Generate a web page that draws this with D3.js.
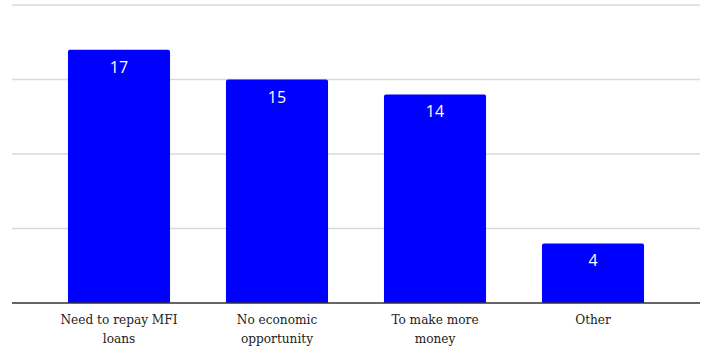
<!DOCTYPE html>
<html>
<head>
<meta charset="utf-8">
<script src="https://cdn.jsdelivr.net/npm/d3@7"></script>
<style>
  body { margin: 0; background: #fff; }
  svg { display: block; }
</style>
</head>
<body>
<div id="chart"></div>
<script>
// categories (line-broken as in the picture) and their values
const categories = ["Need to repay MFI loans", "No economic opportunity", "To make more money", "Other"];
const categoryLines = [["Need to repay MFI", "loans"], ["No economic", "opportunity"], ["To make more", "money"], ["Other"]];
const values = [17, 15, 14, 4];
const yTicks = [0, 5, 10, 15, 20];

const width = 704, height = 349;
const plotLeft = 12, plotRight = 700, baseY = 303, topY = 5;

const svg = d3.select("#chart").append("svg")
  .attr("width", width)
  .attr("height", height);

const x = d3.scaleBand()
  .domain(categories)
  .range([40, 672])
  .paddingInner(0.354)
  .paddingOuter(0.177);

const y = d3.scaleLinear()
  .domain([0, 20])
  .range([baseY, topY]);

// horizontal gridlines
svg.append("g")
  .selectAll("line")
  .data(yTicks.filter(t => t > 0))
  .join("line")
  .attr("x1", plotLeft)
  .attr("x2", plotRight)
  .attr("y1", d => y(d))
  .attr("y2", d => y(d))
  .attr("stroke", "#d9d9d9")
  .attr("stroke-width", 1.3);

// bars with slightly rounded tops
const r = 2;
svg.append("g")
  .selectAll("path")
  .data(values)
  .join("path")
  .attr("fill", "#0000ff")
  .attr("d", (d, i) => {
    const x0 = x(categories[i]), w = x.bandwidth(), y0 = y(d), h = y(0) - y(d);
    return `M${x0},${y0 + h}V${y0 + r}Q${x0},${y0} ${x0 + r},${y0}H${x0 + w - r}Q${x0 + w},${y0} ${x0 + w},${y0 + r}V${y0 + h}Z`;
  });

// value labels inside bars
svg.append("g")
  .selectAll("text")
  .data(values)
  .join("text")
  .attr("x", (d, i) => x(categories[i]) + x.bandwidth() / 2)
  .attr("y", d => y(d) + 23)
  .attr("text-anchor", "middle")
  .attr("fill", "#fff")
  .style("font-family", "'Open Sans', sans-serif")
  .style("font-size", "16px")
  .text(d => d);

// baseline
svg.append("line")
  .attr("x1", plotLeft)
  .attr("x2", plotRight)
  .attr("y1", y(0))
  .attr("y2", y(0))
  .attr("stroke", "#333")
  .attr("stroke-width", 1.3);

// category labels
const labels = svg.append("g")
  .selectAll("text")
  .data(categories)
  .join("text")
  .attr("x", d => x(d) + x.bandwidth() / 2)
  .attr("y", 324)
  .attr("text-anchor", "middle")
  .attr("fill", "#222")
  .style("font-family", "'DejaVu Serif Condensed', 'DejaVu Serif', serif")
  .style("font-stretch", "condensed")
  .style("font-size", "13.5px");

labels.selectAll("tspan")
  .data((d, i) => categoryLines[i])
  .join("tspan")
  .attr("x", function () { return d3.select(this.parentNode).attr("x"); })
  .attr("dy", (d, j) => j === 0 ? 0 : 18.5)
  .text(d => d);
</script>
</body>
</html>
